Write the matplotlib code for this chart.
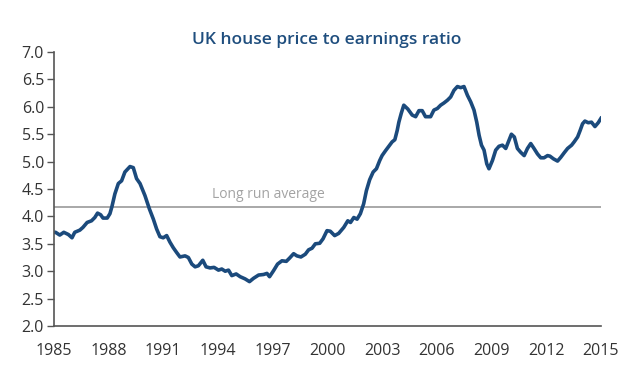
import matplotlib
matplotlib.use("Agg")
import matplotlib.pyplot as plt

years = [1985.0, 1985.1, 1985.33, 1985.55, 1985.8, 1986.0, 1986.15, 1986.43, 1986.6, 1986.83,
         1987.07, 1987.25, 1987.4, 1987.57, 1987.7, 1987.93, 1988.08, 1988.19, 1988.35, 1988.54,
         1988.72, 1988.9, 1989.18, 1989.36, 1989.54, 1989.73, 1990.0, 1990.24, 1990.46, 1990.64,
         1990.82, 1991.0, 1991.19, 1991.37, 1991.55, 1991.74, 1991.92, 1992.2, 1992.38, 1992.57,
         1992.75, 1992.93, 1993.17, 1993.35, 1993.57, 1993.79, 1994.03, 1994.21, 1994.4, 1994.58,
         1994.76, 1995.0, 1995.22, 1995.49, 1995.73, 1995.95, 1996.23, 1996.5, 1996.69, 1996.83,
         1997.05, 1997.27, 1997.51, 1997.75, 1997.93, 1998.15, 1998.33, 1998.55, 1998.79, 1998.97,
         1999.16, 1999.34, 1999.58, 1999.76, 1999.98, 2000.16, 2000.4, 2000.62, 2000.9, 2001.12,
         2001.27, 2001.45, 2001.63, 2001.81, 2001.99, 2002.14, 2002.32, 2002.51, 2002.69, 2002.87,
         2003.0, 2003.19, 2003.37, 2003.55, 2003.7, 2003.83, 2003.92, 2004.05, 2004.19, 2004.41,
         2004.65, 2004.84, 2005.02, 2005.2, 2005.38, 2005.66, 2005.84, 2006.03, 2006.21, 2006.39,
         2006.58, 2006.76, 2006.94, 2007.13, 2007.31, 2007.49, 2007.68, 2007.86, 2008.04, 2008.19,
         2008.32, 2008.45, 2008.59, 2008.74, 2008.86, 2009.05, 2009.23, 2009.41, 2009.6, 2009.78,
         2009.96, 2010.09, 2010.25, 2010.42, 2010.6, 2010.79, 2010.97, 2011.15, 2011.33, 2011.52,
         2011.7, 2011.88, 2012.07, 2012.2, 2012.4, 2012.62, 2012.8, 2012.98, 2013.17, 2013.39,
         2013.53, 2013.72, 2013.86, 2013.99, 2014.12, 2014.3, 2014.48, 2014.67, 2014.85, 2015.0]

ratio = [3.71, 3.71, 3.66, 3.71, 3.67, 3.61, 3.71, 3.75, 3.80, 3.89,
         3.92, 3.98, 4.06, 4.03, 3.97, 3.97, 4.05, 4.18, 4.41, 4.60,
         4.65, 4.81, 4.91, 4.89, 4.69, 4.60, 4.38, 4.14, 3.95, 3.77,
         3.63, 3.61, 3.65, 3.53, 3.43, 3.34, 3.26, 3.28, 3.25, 3.13,
         3.08, 3.10, 3.20, 3.08, 3.06, 3.07, 3.02, 3.04, 3.00, 3.02,
         2.92, 2.95, 2.90, 2.86, 2.81, 2.87, 2.93, 2.94, 2.96, 2.90,
         3.01, 3.13, 3.19, 3.18, 3.24, 3.32, 3.28, 3.26, 3.31, 3.39,
         3.42, 3.50, 3.51, 3.59, 3.74, 3.73, 3.65, 3.69, 3.80, 3.92,
         3.89, 3.98, 3.95, 4.05, 4.23, 4.47, 4.67, 4.81, 4.87, 5.02,
         5.11, 5.20, 5.28, 5.36, 5.40, 5.57, 5.72, 5.88, 6.03, 5.96,
         5.85, 5.82, 5.93, 5.93, 5.82, 5.82, 5.94, 5.97, 6.03, 6.07,
         6.12, 6.18, 6.30, 6.37, 6.35, 6.37, 6.21, 6.09, 5.94, 5.72,
         5.48, 5.30, 5.21, 4.96, 4.87, 5.02, 5.21, 5.28, 5.30, 5.24,
         5.39, 5.50, 5.45, 5.24, 5.17, 5.11, 5.24, 5.33, 5.24, 5.14,
         5.07, 5.07, 5.11, 5.10, 5.05, 5.01, 5.08, 5.16, 5.24, 5.30,
         5.36, 5.45, 5.57, 5.69, 5.74, 5.71, 5.72, 5.64, 5.71, 5.79]

long_run_average = 4.17
x_ticks = [1985, 1988, 1991, 1994, 1997, 2000, 2003, 2006, 2009, 2012, 2015]
y_ticks = [2.0, 2.5, 3.0, 3.5, 4.0, 4.5, 5.0, 5.5, 6.0, 6.5, 7.0]
title = "UK house price to earnings ratio"
avg_label = "Long run average"

plt.rcParams['font.family'] = ['Open Sans', 'DejaVu Sans']

fig = plt.figure(figsize=(6.4, 3.69), dpi=100)
ax = fig.add_axes([0.084, 0.1165, 0.855, 0.7425])

ax.axhline(long_run_average, color="#9a9a9a", lw=1.2, zorder=1)
ax.plot(years, ratio, color="#1b4a7c", lw=2.6, solid_joinstyle="round", zorder=2)
ax.text(1993.68, long_run_average + 0.1, avg_label,
        color="#a3a3a3", fontsize=10, va="bottom", ha="left")

ax.set_xlim(1985, 2015)
ax.set_ylim(2.0, 7.0)
ax.set_xticks(x_ticks)
ax.set_xticklabels([str(t) for t in x_ticks])
ax.set_yticks(y_ticks)
ax.set_yticklabels([f"{t:.1f}" for t in y_ticks])

for s in ["top", "right"]:
    ax.spines[s].set_visible(False)
for s in ["left", "bottom"]:
    ax.spines[s].set_color("#555555")
    ax.spines[s].set_linewidth(1.2)

ax.tick_params(axis="y", length=5, width=1, color="#555555", labelsize=11.5,
               labelcolor="#333333", pad=2)
ax.tick_params(axis="x", length=0, labelsize=11.5, labelcolor="#333333", pad=12)

fig.text(327 / 640, 1 - 40 / 369, title, ha="center", va="center",
         fontsize=12.5, color="#1f4e7e", fontweight="semibold")

fig.savefig("out.png", dpi=100)
